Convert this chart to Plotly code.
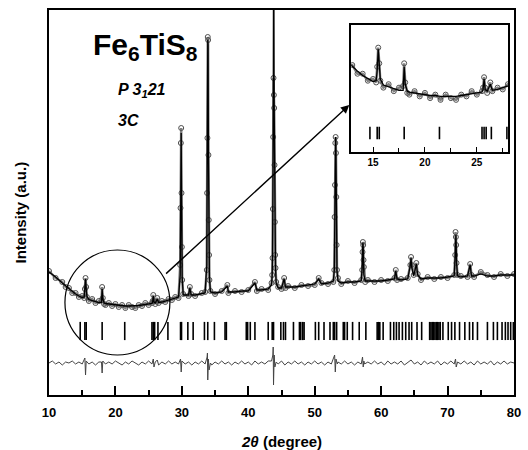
import plotly.graph_objects as go

# ---------------- data ----------------
two_theta = [10, 11, 12, 12.5, 13, 13.5, 14, 14.5, 15, 15.3, 15.4, 15.5, 15.6, 15.7,
             16, 16.5, 17, 17.5, 17.9, 18.0, 18.1, 18.3, 18.5, 19, 19.5, 20, 20.5, 21,
             21.5, 22, 22.5, 23, 23.5, 24, 24.5, 25, 25.5, 25.6, 25.7, 25.8, 26.0, 26.3,
             26.5, 27, 27.5, 28, 28.5, 29, 29.5, 29.75, 29.8, 29.85, 29.9, 29.95, 30.0,
             30.05, 30.2, 31, 31.2, 31.4, 32, 33, 33.5, 33.75, 33.8, 33.85, 33.9, 33.95,
             34.0, 34.05, 34.1, 34.15, 34.3, 35, 36, 36.85, 37, 38, 39, 40, 41, 41.3, 42,
             43, 43.5, 43.6, 43.65, 43.7, 43.75, 43.8, 43.85, 43.9, 43.95, 44.0, 44.05,
             44.1, 44.2, 44.5, 45, 45.4, 45.6, 46, 47, 48, 49, 50, 50.6, 51, 52, 52.8,
             52.95, 53.0, 53.05, 53.1, 53.15, 53.2, 53.25, 53.3, 53.35, 53.5, 54, 55, 56,
             57, 57.15, 57.2, 57.25, 57.3, 57.35, 57.4, 57.6, 58, 59, 60, 61, 62, 62.2,
             62.4, 63, 64, 64.4, 64.5, 64.6, 64.9, 65.3, 65.5, 66, 67, 68, 69, 70, 71,
             71.15, 71.2, 71.25, 71.3, 71.35, 71.5, 72, 73, 73.4, 73.6, 74, 75, 76, 77,
             78, 79, 80]

i_calc = [123, 118, 112, 109, 106, 103.5, 101, 99, 97.5, 98, 104, 116, 106, 99,
          95.5, 94.5, 93.5, 92.5, 92.5, 106, 96, 92, 91.5, 91, 90.5, 90, 89.5, 89.5,
          89, 89, 89, 89, 89.5, 90, 90.5, 91, 91.5, 93, 99, 93, 92, 96,
          92.5, 93, 94, 95, 96, 97, 98, 120, 180, 245, 262, 205, 150,
          118, 100, 100, 107, 100, 100, 101, 102, 130, 200, 260, 355, 350,
          245, 175, 140, 118, 103, 102, 103, 109, 103, 103, 104, 104, 112, 105, 105,
          106, 110, 120, 140, 185, 260, 430, 420, 290, 232, 175, 142,
          126, 112, 107, 107, 116, 108, 108, 108, 109, 110, 111, 116, 111, 112, 114,
          125, 175, 212, 250, 258, 240, 195, 150, 125, 114, 112, 113, 113,
          114, 128, 145, 152, 148, 132, 120, 114, 114, 114, 114, 115, 116, 124,
          116, 115, 116, 130, 137, 128, 119, 131, 120, 116, 117, 117, 117, 118, 119,
          140, 158, 160, 150, 132, 119, 118, 119, 130, 119, 119, 121, 119, 119,
          120, 120, 120]

i_obs = [124, 117, 113, 108, 107, 102, 102, 98, 99, 97, 106, 117, 108, 98,
         94, 96, 92, 94, 95, 108, 97, 91, 90, 92, 89, 91, 88, 90,
         87, 90, 88, 87, 90, 89, 92, 90, 92, 94, 100, 94, 91, 97,
         92, 94, 93, 96, 95, 98, 97, 130, 187, 252, 267, 202, 148,
         115, 101, 99, 108, 101, 99, 102, 103, 125, 202, 257, 358, 355,
         240, 175, 140, 115, 104, 101, 104, 110, 102, 104, 103, 105, 113, 104, 106,
         105, 112, 120, 137, 186, 258, 317, 300, 287, 230, 173, 140,
         127, 113, 108, 106, 117, 107, 109, 107, 110, 109, 110, 117, 112, 111, 113,
         125, 178, 210, 252, 258, 242, 198, 150, 125, 117, 111, 114, 112,
         115, 125, 143, 153, 150, 135, 128, 113, 115, 113, 115, 114, 117, 125,
         115, 116, 117, 130, 138, 130, 120, 132, 121, 115, 118, 116, 118, 117, 120,
         140, 163, 158, 150, 132, 120, 119, 118, 131, 120, 118, 123, 120, 118,
         121, 119, 121]

diff_theta = [10, 10.5, 11, 11.5, 12, 12.5, 13, 13.5, 14, 14.5,
              15, 15.4, 15.5, 15.6, 16, 16.5, 17, 17.5, 17.9, 18.0,
              18.1, 18.5, 19, 19.5, 20, 20.5, 21, 21.5, 22, 22.5,
              23, 23.5, 24, 24.5, 25, 25.5, 25.7, 25.8, 26, 26.3,
              26.5, 27, 27.5, 28, 28.5, 29, 29.5, 29.8, 29.9, 30.0,
              30.5, 31, 31.5, 32, 32.5, 33, 33.5, 33.8, 33.85, 33.9,
              34.0, 34.1, 34.3, 34.5, 35, 35.5, 36, 36.5, 37, 37.5,
              38, 38.5, 39, 39.5, 40, 40.5, 41, 41.5, 42, 42.5,
              43, 43.5, 43.7, 43.75, 43.8, 43.85, 43.9, 44.0, 44.2, 44.5,
              45, 45.5, 46, 46.5, 47, 47.5, 48, 48.5, 49, 49.5,
              50, 50.5, 51, 51.5, 52, 52.5, 53.0, 53.1, 53.2, 53.4,
              53.5, 54, 54.5, 55, 55.5, 56, 56.5, 57, 57.2, 57.3,
              57.4, 57.5, 58, 58.5, 59, 59.5, 60, 60.5, 61, 61.5,
              62, 62.5, 63, 63.5, 64, 64.5, 65, 65.5, 66, 66.5,
              67, 67.5, 68, 68.5, 69, 69.5, 70, 70.5, 71, 71.2,
              71.3, 71.5, 72, 72.5, 73, 73.5, 74, 74.5, 75, 75.5,
              76, 76.5, 77, 77.5, 78, 78.5, 79, 79.5, 80]
i_diff = [32, 34, 31, 33, 30, 33, 32, 34, 31, 33,
          31, 37, 20, 34, 31, 33, 30, 33, 33, 22,
          34, 31, 33, 31, 34, 32, 30, 33, 31, 34,
          32, 30, 33, 31, 34, 31, 36, 28, 33, 35,
          30, 33, 31, 34, 31, 33, 31, 36, 23, 34,
          31, 33, 30, 33, 31, 34, 31, 38, 42, 15,
          36, 25, 32, 30, 33, 31, 34, 31, 33, 30,
          33, 31, 34, 31, 33, 30, 34, 31, 33, 31,
          34, 34, 40, 48, 10, 30, 40, 28, 33, 31,
          34, 30, 33, 31, 34, 31, 33, 30, 33, 31,
          34, 31, 33, 30, 33, 31, 40, 23, 36, 31,
          33, 31, 34, 31, 33, 30, 33, 31, 38, 28,
          34, 31, 33, 31, 34, 31, 33, 30, 34, 31,
          33, 31, 34, 30, 33, 35, 31, 33, 30, 34,
          31, 33, 31, 34, 30, 33, 31, 34, 31, 36,
          28, 33, 31, 34, 31, 33, 30, 34, 31, 33,
          31, 34, 30, 33, 31, 34, 31, 33, 32]

bragg_pos = [14.7, 15.4, 15.6, 18.0, 21.4, 25.5, 25.7, 25.9, 26.4, 27.9, 29.8, 29.95,
             30.9, 31.7, 33.4, 33.9, 34.9, 36.5, 36.7, 39.7, 39.9, 40.3, 41.0, 43.0,
             43.6, 43.8, 44.9, 45.3, 45.6, 46.8, 47.7, 47.9, 48.2, 48.4, 50.1, 50.6,
             51.4, 52.3, 52.8, 53.0, 53.3, 54.3, 54.5, 54.9, 55.7, 56.7, 57.7, 59.4,
             59.6, 59.8, 60.3, 61.4, 61.9, 62.3, 62.7, 63.2, 63.7, 64.2, 64.6, 65.4,
             66.1, 67.3, 67.5, 67.7, 67.9, 68.1, 68.3, 68.5, 68.7, 68.9, 69.3, 70.1,
             70.6, 71.1, 71.8, 72.6, 73.3, 73.8, 74.5, 76.0, 76.9, 77.5, 78.2, 78.7,
             79.1, 79.5, 79.9]

main_ticks = [10, 20, 30, 40, 50, 60, 70, 80]
inset_ticks = [15, 20, 25]

FONT = "Liberation Sans, Arial, sans-serif"

fig = go.Figure()

for xa, ya, bragg_y, bragg_size, msize in [("x", "y", 64, 13, 5), ("x2", "y2", 68, 9, 5)]:
    fig.add_trace(go.Scatter(
        x=two_theta, y=i_obs, mode="lines+markers", xaxis=xa, yaxis=ya,
        line=dict(color="#808080", width=2.5),
        marker=dict(symbol="circle-open", size=msize, color="#505050", line=dict(width=1)),
        showlegend=False, hoverinfo="skip"))
    fig.add_trace(go.Scatter(
        x=two_theta, y=i_calc, mode="lines", xaxis=xa, yaxis=ya,
        line=dict(color="black", width=1.3), showlegend=False, hoverinfo="skip"))
    fig.add_trace(go.Scatter(
        x=bragg_pos, y=[bragg_y] * len(bragg_pos), mode="markers", xaxis=xa, yaxis=ya,
        marker=dict(symbol="line-ns", size=bragg_size, line=dict(color="black", width=1.6)),
        showlegend=False, hoverinfo="skip"))

fig.add_trace(go.Scatter(
    x=diff_theta, y=i_diff, mode="lines", line=dict(color="#444444", width=1),
    showlegend=False, hoverinfo="skip"))

fig.update_layout(
    width=528, height=450,
    margin=dict(l=49, r=7, t=10, b=55),
    paper_bgcolor="white", plot_bgcolor="white",
    font=dict(family=FONT, color="black"),
    xaxis=dict(range=[10, 80], tickvals=main_ticks, ticks="inside", ticklen=9, tickwidth=2,
               tickcolor="black", showline=True, linewidth=2, linecolor="black", mirror=True,
               showgrid=False, zeroline=False, ticklabelstandoff=4,
               tickfont=dict(size=13, weight="bold", family=FONT),
               minor=dict(dtick=5, tick0=0, ticks="inside", ticklen=5, tickwidth=1.5,
                          tickcolor="black", showgrid=False)),
    yaxis=dict(range=[0, 385], showticklabels=False, ticks="", showline=True, linewidth=2,
               linecolor="black", mirror=True, showgrid=False, zeroline=False),
    xaxis2=dict(domain=[0.650, 0.987], anchor="y2", range=[12.9, 28], tickvals=inset_ticks,
                ticks="inside", ticklen=5, tickwidth=1, tickcolor="black", showline=True,
                linewidth=1.5, linecolor="black", mirror=True, showgrid=False, zeroline=False,
                tickfont=dict(size=10, weight="bold", family=FONT),
                minor=dict(dtick=2.5, tick0=0, ticks="inside", ticklen=4, tickwidth=1,
                           tickcolor="black", showgrid=False)),
    yaxis2=dict(domain=[0.631, 0.961], anchor="x2", range=[57, 130], showticklabels=False,
                ticks="", showline=True, linewidth=1.5, linecolor="black", mirror=True,
                showgrid=False, zeroline=False),
)

# circle around the low-angle region and arrow to the inset
fig.add_shape(type="circle", xref="x", yref="y", x0=12.4, x1=28.2, y0=40, y1=145,
              line=dict(color="black", width=1.2))
fig.add_annotation(x=55.2, y=290, ax=27.4, ay=120, xref="x", yref="y", axref="x", ayref="y",
                   text="", showarrow=True, arrowhead=2, arrowsize=1.2, arrowwidth=1.4,
                   arrowcolor="black")

fig.add_annotation(x=0.208, y=0.905, xref="paper", yref="paper", showarrow=False,
                   text="<b>Fe<sub>6</sub>TiS<sub>8</sub></b>", font=dict(size=30),
                   xanchor="center", yanchor="middle")
fig.add_annotation(x=0.144, y=0.79, xref="paper", yref="paper", showarrow=False,
                   text="<b><i>P 3<sub>1</sub>21</i></b>", font=dict(size=16),
                   xanchor="left", yanchor="middle")
fig.add_annotation(x=0.144, y=0.712, xref="paper", yref="paper", showarrow=False,
                   text="<b><i>3C</i></b>", font=dict(size=16),
                   xanchor="left", yanchor="middle")

# axis titles
fig.add_annotation(x=0.5, y=-0.122, xref="paper", yref="paper", showarrow=False,
                   text="<b><i>2θ</i> (degree)</b>", font=dict(size=15),
                   xanchor="center", yanchor="middle")
fig.add_annotation(x=-0.061, y=0.473, xref="paper", yref="paper", showarrow=False,
                   text="<b>Intensity (a.u.)</b>", font=dict(size=15), textangle=-90,
                   xanchor="center", yanchor="middle")

fig.write_html("out.html", config={"displayModeBar": False},
               post_script="document.body.style.margin='0px';")
